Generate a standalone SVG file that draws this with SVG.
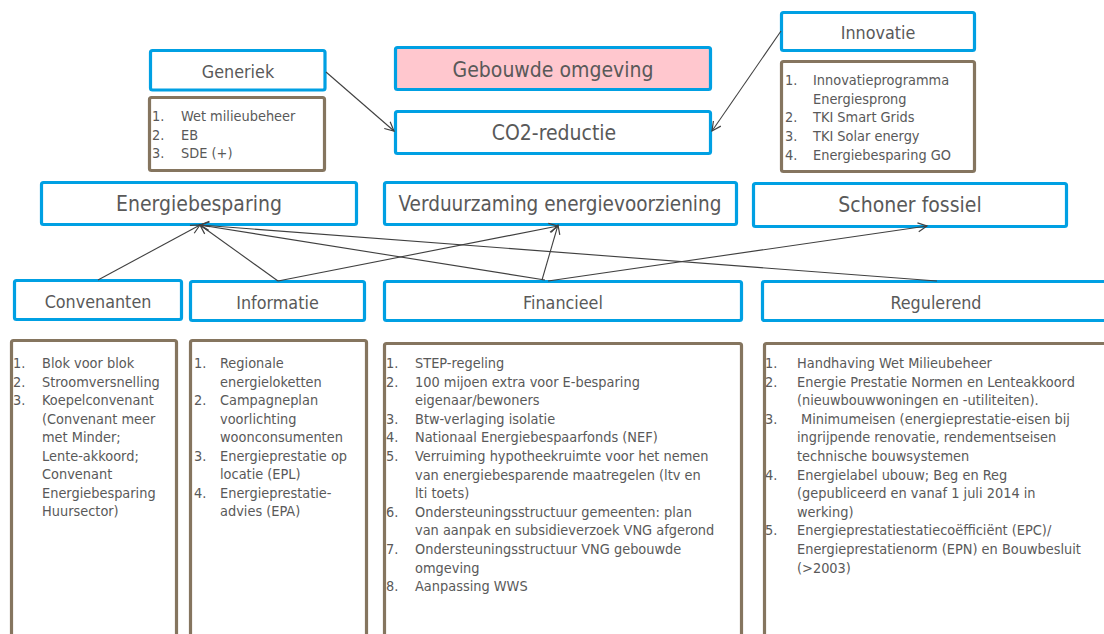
<svg xmlns="http://www.w3.org/2000/svg" width="1104" height="634" viewBox="0 0 1104 634">
<defs>
<style>
.b{fill:#fff;stroke:#00a0e3;stroke-width:3.2}
.p{fill:#ffc7ce;stroke:#00a0e3;stroke-width:3.2}
.l{fill:#fff;stroke:#85755f;stroke-width:3.2}
text{font-family:"DejaVu Sans Condensed","DejaVu Sans",sans-serif;fill:#595959}
.t1{font-size:21px;text-anchor:middle}
.t2{font-size:17.8px;text-anchor:middle}
.li{font-size:14.4px}
.c line{stroke:#404040;stroke-width:1.1;fill:none}
</style>
<marker id="a" markerWidth="12" markerHeight="12" refX="10" refY="5" orient="auto" markerUnits="userSpaceOnUse" viewBox="0 0 12 10">
<path d="M1,0.5 L10,5 L1,9.5" fill="none" stroke="#404040" stroke-width="1.2"/>
</marker>
</defs>
<rect width="1104" height="634" fill="#fff"/>

<g id="generiek"><rect class="b" x="150.5" y="50.5" width="174.5" height="39.5" rx="2"/><text class="t2" x="238" y="78">Generiek</text></g>
<g id="generiek-lijst"><rect class="l" x="149.5" y="97.5" width="175" height="73" rx="2"/>
<text class="li"><tspan x="152" y="121">1.</tspan><tspan x="181" y="121">Wet milieubeheer</tspan><tspan x="152" y="139.5">2.</tspan><tspan x="181" y="139.5">EB</tspan><tspan x="152" y="158">3.</tspan><tspan x="181" y="158">SDE (+)</tspan></text></g>

<g id="gebouwde-omgeving"><rect class="p" x="395.5" y="47.5" width="315" height="42" rx="2"/><text class="t1" x="553" y="77">Gebouwde omgeving</text></g>
<g id="co2-reductie"><rect class="b" x="395.5" y="111.5" width="315" height="42" rx="2"/><text class="t1" x="554" y="140">CO2-reductie</text></g>

<g id="innovatie"><rect class="b" x="781.5" y="12.5" width="193" height="38" rx="2"/><text class="t2" x="878" y="39">Innovatie</text></g>
<g id="innovatie-lijst"><rect class="l" x="781.5" y="61.5" width="193" height="110" rx="2"/>
<text class="li"><tspan x="785" y="85">1.</tspan><tspan x="813" y="85">Innovatieprogramma</tspan><tspan x="813" y="103.7">Energiesprong</tspan><tspan x="785" y="122.4">2.</tspan><tspan x="813" y="122.4">TKI Smart Grids</tspan><tspan x="785" y="141.1">3.</tspan><tspan x="813" y="141.1">TKI Solar energy</tspan><tspan x="785" y="159.8">4.</tspan><tspan x="813" y="159.8">Energiebesparing GO</tspan></text></g>

<g id="energiebesparing"><rect class="b" x="41.5" y="182.5" width="315" height="42" rx="2"/><text class="t1" x="199" y="211">Energiebesparing</text></g>
<g id="verduurzaming"><rect class="b" x="384.5" y="182.5" width="352" height="42" rx="2"/><text class="t1" x="560" y="211" style="font-size:20.5px">Verduurzaming energievoorziening</text></g>
<g id="schoner-fossiel"><rect class="b" x="753.5" y="183.5" width="313" height="43" rx="2"/><text class="t1" x="910" y="212">Schoner fossiel</text></g>

<g id="convenanten"><rect class="b" x="14.5" y="280.5" width="167" height="39" rx="2"/><text class="t2" x="98" y="308">Convenanten</text></g>
<g id="informatie"><rect class="b" x="190.5" y="281.5" width="174" height="39" rx="2"/><text class="t2" x="277.5" y="309">Informatie</text></g>
<g id="financieel"><rect class="b" x="384.5" y="281.5" width="357" height="39" rx="2"/><text class="t2" x="563" y="309">Financieel</text></g>
<g id="regulerend"><rect class="b" x="762.5" y="281.5" width="347" height="39" rx="2"/><text class="t2" x="936" y="309">Regulerend</text></g>

<g id="convenanten-lijst"><rect class="l" x="11.5" y="340.5" width="165" height="310" rx="2"/>
<text class="li"><tspan x="13" y="368">1.</tspan><tspan x="42" y="368">Blok voor blok</tspan><tspan x="13" y="386.5">2.</tspan><tspan x="42" y="386.5">Stroomversnelling</tspan><tspan x="13" y="405">3.</tspan><tspan x="42" y="405">Koepelconvenant</tspan><tspan x="42" y="423.5">(Convenant meer</tspan><tspan x="42" y="442">met Minder;</tspan><tspan x="42" y="460.5">Lente-akkoord;</tspan><tspan x="42" y="479">Convenant</tspan><tspan x="42" y="497.5">Energiebesparing</tspan><tspan x="42" y="516">Huursector)</tspan></text></g>

<g id="informatie-lijst"><rect class="l" x="190.5" y="340.5" width="176" height="310" rx="2"/>
<text class="li"><tspan x="194" y="368">1.</tspan><tspan x="220" y="368">Regionale</tspan><tspan x="220" y="386.5">energieloketten</tspan><tspan x="194" y="405">2.</tspan><tspan x="220" y="405">Campagneplan</tspan><tspan x="220" y="423.5">voorlichting</tspan><tspan x="220" y="442">woonconsumenten</tspan><tspan x="194" y="460.5">3.</tspan><tspan x="220" y="460.5">Energieprestatie op</tspan><tspan x="220" y="479">locatie (EPL)</tspan><tspan x="194" y="497.5">4.</tspan><tspan x="220" y="497.5">Energieprestatie-</tspan><tspan x="220" y="516">advies (EPA)</tspan></text></g>

<g id="financieel-lijst"><rect class="l" x="384.5" y="343.5" width="357" height="310" rx="2"/>
<text class="li"><tspan x="386" y="368">1.</tspan><tspan x="415" y="368">STEP-regeling</tspan><tspan x="386" y="386.6">2.</tspan><tspan x="415" y="386.6">100 mijoen extra voor E-besparing</tspan><tspan x="415" y="405.2">eigenaar/bewoners</tspan><tspan x="386" y="423.8">3.</tspan><tspan x="415" y="423.8">Btw-verlaging isolatie</tspan><tspan x="386" y="442.4">4.</tspan><tspan x="415" y="442.4">Nationaal Energiebespaarfonds (NEF)</tspan><tspan x="386" y="461">5.</tspan><tspan x="415" y="461">Verruiming hypotheekruimte voor het nemen</tspan><tspan x="415" y="479.6">van energiebesparende maatregelen (ltv en</tspan><tspan x="415" y="498.2">lti toets)</tspan><tspan x="386" y="516.8">6.</tspan><tspan x="415" y="516.8">Ondersteuningsstructuur gemeenten: plan</tspan><tspan x="415" y="535.4">van aanpak en subsidieverzoek VNG afgerond</tspan><tspan x="386" y="554">7.</tspan><tspan x="415" y="554">Ondersteuningsstructuur VNG gebouwde</tspan><tspan x="415" y="572.6">omgeving</tspan><tspan x="386" y="591.2">8.</tspan><tspan x="415" y="591.2">Aanpassing WWS</tspan></text></g>

<g id="regulerend-lijst"><rect class="l" x="764.5" y="343.5" width="350" height="310" rx="2"/>
<text class="li"><tspan x="765" y="368">1.</tspan><tspan x="797" y="368">Handhaving Wet Milieubeheer</tspan><tspan x="765" y="386.6">2.</tspan><tspan x="797" y="386.6">Energie Prestatie Normen en Lenteakkoord</tspan><tspan x="797" y="405.2">(nieuwbouwwoningen en -utiliteiten).</tspan><tspan x="765" y="423.8">3.</tspan><tspan x="801" y="423.8">Minimumeisen (energieprestatie-eisen bij</tspan><tspan x="797" y="442.4">ingrijpende renovatie, rendementseisen</tspan><tspan x="797" y="461">technische bouwsystemen</tspan><tspan x="765" y="479.6">4.</tspan><tspan x="797" y="479.6">Energielabel ubouw; Beg en Reg</tspan><tspan x="797" y="498.2">(gepubliceerd en vanaf 1 juli 2014 in</tspan><tspan x="797" y="516.8">werking)</tspan><tspan x="765" y="535.4">5.</tspan><tspan x="797" y="535.4">Energieprestatiestatiecoëfficiënt (EPC)/</tspan><tspan x="797" y="554">Energieprestatienorm (EPN) en Bouwbesluit</tspan><tspan x="797" y="572.6">(&gt;2003)</tspan></text></g>

<g id="connectors" class="c">
<line x1="326" y1="72" x2="394" y2="131" marker-end="url(#a)"/>
<line x1="781" y1="31" x2="712" y2="131" marker-end="url(#a)"/>
<line x1="98" y1="280" x2="200" y2="225" marker-end="url(#a)"/>
<line x1="278" y1="281" x2="200" y2="225" marker-end="url(#a)"/>
<line x1="278" y1="281" x2="558" y2="226" marker-end="url(#a)"/>
<line x1="545" y1="280" x2="200" y2="225" marker-end="url(#a)"/>
<line x1="542" y1="280" x2="558" y2="225" marker-end="url(#a)"/>
<line x1="548" y1="281" x2="927" y2="226" marker-end="url(#a)"/>
<line x1="937" y1="281" x2="200" y2="225" marker-end="url(#a)"/>
</g>
</svg>
